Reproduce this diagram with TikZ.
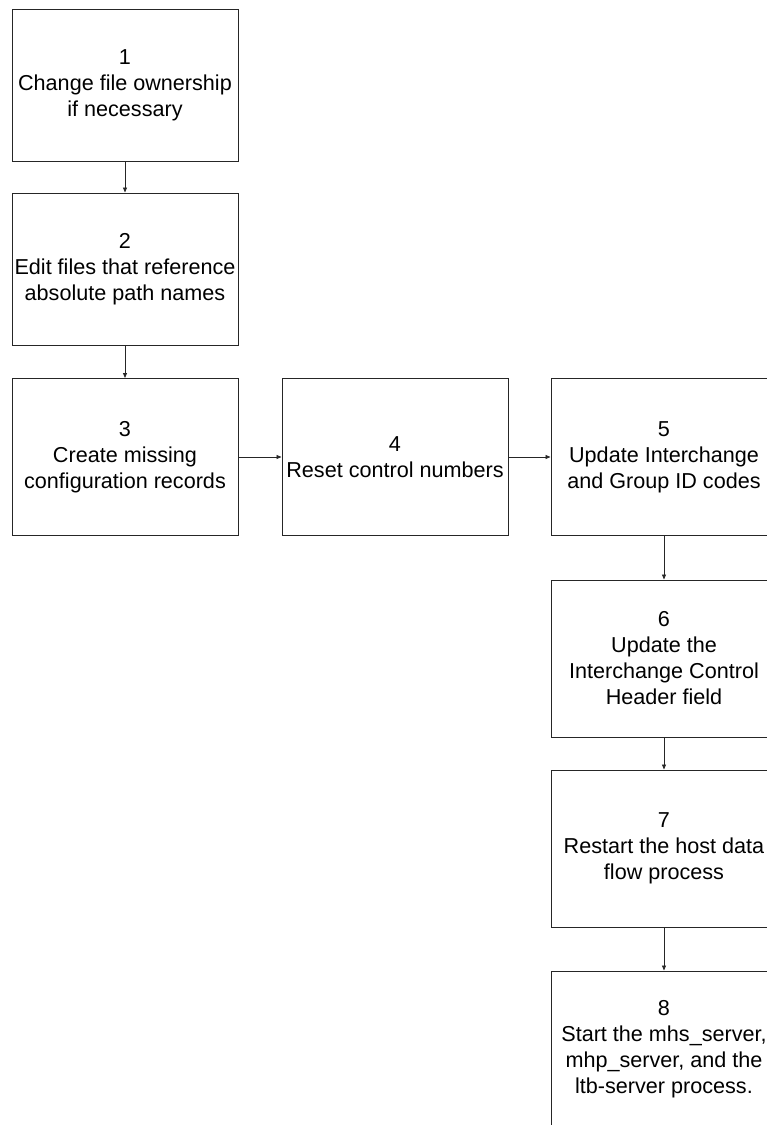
\documentclass[tikz,border=0pt]{standalone}
\usepackage{fontspec}
\setmainfont{Liberation Sans}
\usetikzlibrary{arrows.meta}
\tikzset{
  stepbox/.style={draw=black!85, line width=1pt, fill=white, inner sep=0pt, minimum width=226pt, align=center, font=\fontsize{21.6}{26}\selectfont},
  shortbox/.style={stepbox, minimum height=152pt},
  tallbox/.style={stepbox, minimum height=157pt},
  flow/.style={draw=black!85, line width=0.8pt, -{Triangle[length=5pt,width=4pt]}}
}
\begin{document}
\begin{tikzpicture}[x=1pt,y=-1pt]
\useasboundingbox (0,0) rectangle (767,1125);
\clip (0,0) rectangle (767,1125);
\node[shortbox] (b1) at (125,85) {1\\Change file ownership\\if necessary};
\node[shortbox] (b2) at (125,269) {2\\Edit files that reference\\absolute path names};
\node[tallbox] (b3) at (125,457) {3\\Create missing\\configuration records};
\node[tallbox] (b4) at (395,457) {4\\Reset control numbers};
\node[tallbox] (b5) at (664,457) {5\\Update Interchange\\and Group ID codes};
\node[tallbox] (b6) at (664,658.5) {6\\Update the\\Interchange Control\\Header field};
\node[tallbox] (b7) at (664,848.5) {7\\Restart the host data\\flow process};
\node[tallbox] (b8) at (664,1049.5) {8\\Start the mhs\_server,\\mhp\_server, and the\\ltb-server process.};
\draw[flow] (b1) -- (b2);
\draw[flow] (b2) -- (b3);
\draw[flow] (b3) -- (b4);
\draw[flow] (b4) -- (b5);
\draw[flow] (b5) -- (b6);
\draw[flow] (b6) -- (b7);
\draw[flow] (b7) -- (b8);
\end{tikzpicture}
\end{document}
